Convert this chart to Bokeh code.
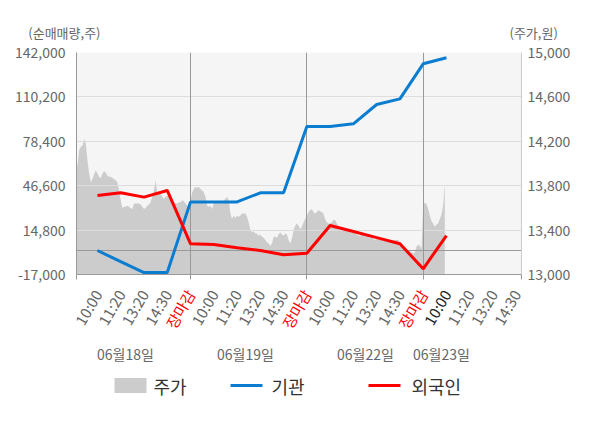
import math
from bokeh.plotting import figure
from bokeh.models import (Range1d, LinearAxis, FixedTicker, NumeralTickFormatter)
from bokeh.layouts import column
from bokeh.embed import file_html
from bokeh.resources import INLINE
from bokeh.core.properties import value

FONT = "Noto Sans CJK KR"

# ---------------- data ----------------
dates = ["06월18일", "06월19일", "06월22일", "06월23일"]
slot_labels = ["10:00", "11:20", "13:20", "14:30", "장마감",
               "10:00", "11:20", "13:20", "14:30", "장마감",
               "10:00", "11:20", "13:20", "14:30", "장마감",
               "10:00", "11:20", "13:20", "14:30"]

# net buying (shares), one value per time slot
inst = [200, -7800, -15600, -15600, 35000,
        35000, 35000, 41500, 41500, 89000,
        89000, 90900, 104750, 108800, 133900,
        138200]
foreign = [39600, 41500, 38400, 43200, 5000,
           4500, 2100, 200, -2900, -1800,
           18100, 13800, 9400, 5000, -12900,
           10900]

# intraday price (won), evenly sampled within each trading day
price_day1 = [14000, 14000, 13980, 14120, 14150, 14160, 14220, 14180, 14030, 13910,
              13830, 13860, 13900, 13940, 13910, 13880, 13870, 13910, 13930, 13920,
              13890, 13880, 13880, 13870, 13860, 13850, 13830, 13760, 13670, 13600,
              13610, 13610, 13620, 13610, 13600, 13590, 13640, 13640, 13640, 13640,
              13630, 13610, 13590, 13600, 13620, 13630, 13650, 13700, 13760, 13850,
              13740, 13730, 13730, 13700, 13680, 13700, 13710, 13700, 13690, 13670,
              13650, 13640, 13640, 13650, 13650, 13670, 13660, 13640, 13620, 13620]
price_day2 = [13670, 13740, 13770, 13790, 13780, 13790, 13770, 13760, 13740, 13700,
              13620, 13610, 13620, 13590, 13640, 13650, 13640, 13650, 13640, 13650,
              13670, 13680, 13700, 13670, 13550, 13500, 13530, 13510, 13530, 13520,
              13530, 13550, 13550, 13550, 13520, 13470, 13400, 13380, 13390, 13370,
              13370, 13350, 13360, 13340, 13330, 13310, 13290, 13280, 13260, 13280,
              13340, 13340, 13330, 13360, 13380, 13360, 13350, 13370, 13360, 13310,
              13280, 13320, 13400, 13440, 13460, 13440, 13410, 13430, 13470, 13500]
price_day3 = [13530, 13560, 13580, 13590, 13560, 13550, 13560, 13580, 13570, 13560,
              13550, 13500, 13470, 13460, 13460, 13470, 13490, 13490, 13460, 13440,
              13430, 13430, 13410, 13400, 13390, 13380, 13390, 13370, 13380, 13370,
              13360, 13350, 13350, 13360, 13370, 13340, 13350, 13340, 13330, 13330,
              13320, 13310, 13320, 13310, 13310, 13310, 13300, 13310, 13290, 13300,
              13290, 13300, 13310, 13310, 13310, 13310, 13290, 13280, 13260, 13250,
              13230, 13220, 13210, 13200, 13190, 13200, 13250, 13270, 13260, 13230]
price_day4 = [13620, 13650, 13630, 13590, 13530, 13480, 13460, 13430, 13450, 13460,
              13500, 13540, 13620, 13820]

left_ticks = [-17000, 14800, 46600, 78400, 110200, 142000]
right_ticks = [13000, 13400, 13800, 14200, 14600, 15000]
left_title = "(순매매량,주)"
right_title = "(주가,원)"
legend_names = ["주가", "기관", "외국인"]

# ---------------- layout constants (page pixels) ----------------
W = 600
F_LEFT, F_RIGHT = 76, 521
BL, BR = F_LEFT, W - F_RIGHT
T_H = 42
A_TOP, FRAME_H, A_BOT = 10, 222, 12
A_H = A_TOP + FRAME_H + A_BOT
B_H = 428 - T_H - A_H
B_TOP = T_H + A_H
SLOTS_PER_DAY = 5
SAMPLES_PER_DAY = 70
X0, X1 = 0.10, 19.225
xr = Range1d(X0, X1)

def ux(px):
    return X0 + (px - F_LEFT) / (F_RIGHT - F_LEFT) * (X1 - X0)

def by(py):
    return -(py - B_TOP)

slot_x = list(range(1, len(slot_labels) + 1))
series_x = slot_x[:len(inst)]
px_, py_ = [], []
step = SLOTS_PER_DAY / SAMPLES_PER_DAY
for d, day in enumerate([price_day1, price_day2, price_day3, price_day4]):
    for i, v in enumerate(day):
        px_.append(d * SLOTS_PER_DAY + i * step)
        py_.append(v)

GRAY_T = "#666666"
BLUE = "#0b7dd0"
RED = "#ff0000"

def strip(height, yr):
    f = figure(width=W, height=height, x_range=xr, y_range=yr,
               output_backend="svg", toolbar_location=None, title=None,
               x_axis_location=None, y_axis_location=None,
               min_border_left=BL, min_border_right=BR, min_border_top=0, min_border_bottom=0,
               outline_line_color=None)
    f.xgrid.visible = False
    f.ygrid.visible = False
    return f

# ---------------- top strip: axis titles as axis labels ----------------
t = strip(T_H, Range1d(0, T_H))
TY = T_H - 33
for side, txt, standoff in [("left", left_title, -24), ("right", right_title, -12)]:
    ax = LinearAxis(ticker=FixedTicker(ticks=[TY]), major_label_overrides={TY: txt})
    ax.axis_line_color = None
    ax.major_tick_out = 0
    ax.major_tick_in = 0
    ax.minor_tick_out = 0
    ax.minor_tick_in = 0
    ax.major_label_standoff = standoff
    ax.major_label_text_font = FONT
    ax.major_label_text_font_size = "13px"
    ax.major_label_text_color = GRAY_T
    t.add_layout(ax, side)

# ---------------- main plot ----------------
p = figure(width=W, height=A_H, x_range=xr, y_range=Range1d(left_ticks[0], left_ticks[-1]),
           output_backend="svg", toolbar_location=None, title=None,
           min_border_left=BL, min_border_right=BR, min_border_top=A_TOP, min_border_bottom=A_BOT,
           background_fill_color="#f5f5f5", outline_line_color=None)
p.extra_y_ranges = {"price": Range1d(right_ticks[0], right_ticks[-1])}
p.xgrid.visible = False
p.ygrid.visible = False

p.varea(x=px_, y1=[right_ticks[0]] * len(py_), y2=py_, fill_color="#cccccc",
        y_range_name="price")
p.hspan(y=left_ticks[1:-1], line_color="#dddddd", line_width=1)
p.hspan(y=[0], line_color="#999999", line_width=1)
p.vspan(x=[5, 10, 15], line_color="#999999", line_width=1)
p.line(series_x, inst, line_color=BLUE, line_width=3)
p.line(series_x, foreign, line_color=RED, line_width=3)

ya = p.yaxis[0]
ya.ticker = FixedTicker(ticks=left_ticks)
ya.formatter = NumeralTickFormatter(format="0,0")
ya.major_tick_out = 0
ya.major_tick_in = 0
ya.minor_tick_out = 0
ya.minor_tick_in = 0
ya.axis_line_color = "#999999"
ya.major_label_standoff = 11
ya.major_label_text_font = FONT
ya.major_label_text_font_size = "14px"
ya.major_label_text_color = GRAY_T

ra = LinearAxis(y_range_name="price", ticker=FixedTicker(ticks=right_ticks),
                formatter=NumeralTickFormatter(format="0,0"))
ra.major_tick_out = 0
ra.major_tick_in = 0
ra.minor_tick_out = 0
ra.minor_tick_in = 0
ra.axis_line_color = "#cccccc"
ra.major_label_standoff = 6
ra.major_label_text_font = FONT
ra.major_label_text_font_size = "14px"
ra.major_label_text_color = GRAY_T
p.add_layout(ra, "right")

# bottom axis: small marks at the day boundaries only
xa = p.xaxis[0]
xa.ticker = FixedTicker(ticks=[], minor_ticks=[X0, 5, 10, 15, X1])
xa.minor_tick_out = 5
xa.minor_tick_in = 0
xa.major_tick_out = 0
xa.major_tick_in = 0
xa.axis_line_color = "#999999"
xa.minor_tick_line_color = "#999999"

# ---------------- bottom strip: time labels, dates, legend ----------------
b = strip(B_H, Range1d(-B_H, 0))

label_colors = []
for i, lab in enumerate(slot_labels):
    if lab == "장마감":
        label_colors.append(RED)
    elif i == 15:
        label_colors.append("#222222")
    else:
        label_colors.append(GRAY_T)
b.text(x=slot_x, y=[by(290.5)] * len(slot_x), text=slot_labels, angle=math.pi / 3,
       text_align="right", text_baseline="middle", text_color=label_colors,
       text_font=value(FONT), text_font_size="15px")

date_px = [125, 245, 365, 441]
b.text(x=[ux(v) for v in date_px], y=[by(353)] * len(dates), text=dates,
       text_align="center", text_baseline="middle", text_color=GRAY_T,
       text_font=value(FONT), text_font_size="14px")

LY = by(385)
b.quad(left=[ux(114)], right=[ux(146)], top=[LY + 7.5], bottom=[LY - 7.5],
       fill_color="#cccccc", line_color=None)
b.line([ux(230), ux(262)], [LY, LY], line_color=BLUE, line_width=3)
b.line([ux(368), ux(400)], [LY, LY], line_color=RED, line_width=3)
b.text(x=[ux(153), ux(271), ux(411)], y=[LY] * 3, text=legend_names,
       text_align="left", text_baseline="middle", text_color="#333333",
       text_font=value(FONT), text_font_size="18px")

layout = column(t, p, b)
open("out.html", "w").write(file_html(layout, INLINE))
